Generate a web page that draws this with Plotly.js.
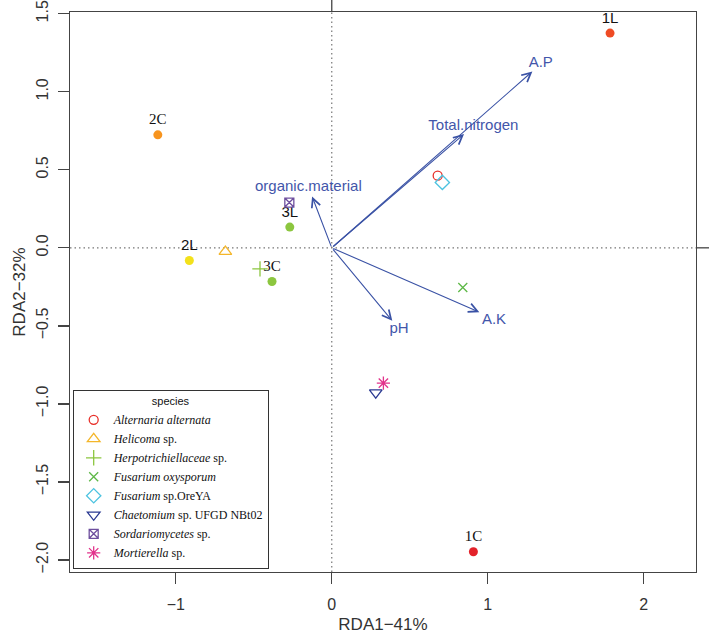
<!DOCTYPE html>
<html>
<head>
<meta charset="utf-8">
<script src="https://cdn.plot.ly/plotly-3.0.1.min.js"></script>
<style>html,body{margin:0;padding:0;background:#fff;}#chart{width:709px;height:641px;}</style>
</head>
<body>
<div id="chart"></div>
<script>
// Sites (samples)
const siteLabels = ["1L", "1C", "2C", "2L", "3L", "3C"];
const siteX = [1.784, 0.908, -1.115, -0.913, -0.269, -0.383];
const siteY = [1.376, -1.947, 0.724, -0.081, 0.133, -0.216];
const siteColors = ["#EF4B24", "#E3222A", "#F7941E", "#F3E11B", "#8CC63F", "#8CC63F"];
const siteFonts = ["Liberation Sans", "Liberation Serif", "Liberation Serif", "Liberation Sans", "Liberation Sans", "Liberation Serif"];

// Species
const speciesNames = [
  "<i>Alternaria alternata</i>",
  "<i>Helicoma</i> sp.",
  "<i>Herpotrichiellaceae</i> sp.",
  "<i>Fusarium oxysporum</i>",
  "<i>Fusarium</i> sp.OreYA",
  "<i>Chaetomium</i> sp. UFGD NBt02",
  "<i>Sordariomycetes</i> sp.",
  "<i>Mortierella</i> sp."
];
const speciesX = [0.679, -0.682, -0.46, 0.84, 0.709, 0.282, -0.272, 0.331];
const speciesY = [0.462, -0.024, -0.135, -0.254, 0.419, -0.928, 0.29, -0.867];
const speciesSymbols = ["circle-open", "triangle-up-open", "cross-thin-open", "x-thin-open", "diamond-open", "triangle-down-open", "square-x-open", "asterisk-open"];
const speciesColors = ["#E8302A", "#F4B62A", "#8CC63F", "#5DB847", "#4DC3E0", "#2B3A92", "#6E4F9E", "#E2338C"];
const speciesSizes = [9, 11, 11, 9, 11, 11, 9, 11];

// Environmental vectors
const envNames = ["A.P", "Total.nitrogen", "organic.material", "pH", "A.K"];
const envX = [1.286, 0.848, -0.126, 0.388, 0.946];
const envY = [1.13, 0.729, 0.329, -0.468, -0.412];
const envLabelX = [1.34, 0.908, -0.150, 0.431, 1.040];
const envLabelY = [1.184, 0.782, 0.389, -0.521, -0.463];

// Axis ticks
const xTicks = [-1, 0, 1, 2];
const xTickText = ["\u22121", "0", "1", "2"];
const yTicks = [-2, -1.5, -1, -0.5, 0, 0.5, 1, 1.5];
const yTickText = ["\u22122.0", "\u22121.5", "\u22121.0", "\u22120.5", "0.0", "0.5", "1.0", "1.5"];

const arrowColor = "#3A52A5";
const labelColor = "#4356AA";

const traces = [];
traces.push({
  type: "scatter", mode: "markers+text",
  x: siteX, y: siteY, text: siteLabels,
  textposition: "top center",
  textfont: {family: siteFonts, size: 15, color: "#111"},
  marker: {size: 9, color: siteColors, line: {width: 0}},
  showlegend: false, hoverinfo: "skip", cliponaxis: false
});
speciesNames.forEach((n, i) => {
  traces.push({
    type: "scatter", mode: "markers",
    x: [speciesX[i]], y: [speciesY[i]], name: n,
    marker: {symbol: speciesSymbols[i], size: speciesSizes[i], color: speciesColors[i],
             line: {width: 1.3, color: speciesColors[i]}},
    hoverinfo: "name"
  });
});
traces.push({
  type: "scatter", mode: "text",
  x: envLabelX, y: envLabelY, text: envNames,
  textposition: "middle center",
  textfont: {family: "Liberation Sans", size: 15, color: labelColor},
  showlegend: false, hoverinfo: "skip", cliponaxis: false
});

const annotations = envNames.map((n, i) => ({
  x: envX[i], y: envY[i], xref: "x", yref: "y",
  ax: 0, ay: 0, axref: "x", ayref: "y",
  text: "", showarrow: true, arrowhead: 5, arrowsize: 1.6, arrowwidth: 1.1,
  arrowcolor: arrowColor, standoff: 0, startstandoff: 0
}));

const shapes = [
  {type: "line", xref: "x", yref: "paper", x0: 0, x1: 0, y0: 0, y1: 1,
   line: {color: "#777", width: 1.2, dash: "1.5px,3px"}, layer: "below"},
  {type: "line", xref: "paper", yref: "y", x0: 0, x1: 1, y0: 0, y1: 0,
   line: {color: "#777", width: 1.2, dash: "1.5px,3px"}, layer: "below"},
  {type: "line", xref: "x", yref: "paper", x0: 0, x1: 0, y0: 1, y1: 1 + 12 / 560,
   line: {color: "#444", width: 1.3}},
  {type: "line", xref: "paper", yref: "y", x0: 1, x1: 1 + 13 / 626, y0: 0, y1: 0,
   line: {color: "#444", width: 1.3}}
];

const tickFont = {family: "Liberation Sans", size: 16, color: "#333"};
const titleFont = {family: "Liberation Sans", size: 17, color: "#333"};

const layout = {
  width: 709, height: 641,
  margin: {l: 70, r: 13, t: 12, b: 69, pad: 0},
  paper_bgcolor: "#fff", plot_bgcolor: "#fff",
  showlegend: true,
  xaxis: {
    range: [-1.678, 2.335], tickvals: xTicks, ticktext: xTickText,
    showgrid: false, zeroline: false, showline: true, mirror: true,
    linecolor: "#444", linewidth: 1.3, ticks: "outside", ticklen: 11, tickwidth: 1.3, tickcolor: "#444",
    tickfont: tickFont, ticklabelstandoff: 6,
    title: {text: "RDA1\u221241%", font: titleFont, standoff: 6}
  },
  yaxis: {
    range: [-2.077, 1.511], tickvals: yTicks, ticktext: yTickText, tickangle: -90,
    showgrid: false, zeroline: false, showline: true, mirror: true,
    linecolor: "#444", linewidth: 1.3, ticks: "outside", ticklen: 11, tickwidth: 1.3, tickcolor: "#444",
    tickfont: tickFont, ticklabelstandoff: 3,
    title: {text: "RDA2\u221232%", font: titleFont, standoff: 4}
  },
  legend: {
    x: 0.0043, y: 0.0054, xanchor: "left", yanchor: "bottom",
    bgcolor: "#fff", bordercolor: "#333", borderwidth: 1,
    font: {family: "Liberation Serif", size: 12, color: "#111"},
    title: {text: "species", side: "top center", font: {family: "Liberation Sans", size: 11, color: "#111"}},
    tracegroupgap: 0
  },
  shapes: shapes,
  annotations: annotations
};

Plotly.newPlot("chart", traces, layout, {displayModeBar: false, staticPlot: true});
</script>
</body>
</html>
